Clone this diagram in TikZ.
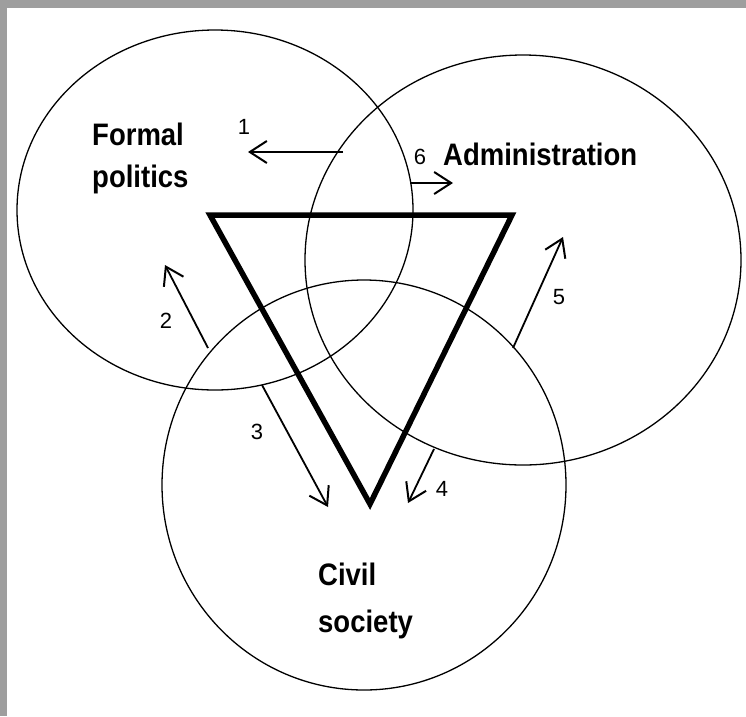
\documentclass[tikz,border=0pt]{standalone}
\usepackage{fontspec}
\setmainfont{Liberation Sans}
\usetikzlibrary{arrows.meta,shapes.geometric}
\definecolor{framegray}{HTML}{9E9E9E}
\newcommand{\tallbf}[1]{\scalebox{1}[1.13]{#1}}
\begin{document}
\begin{tikzpicture}[x=1pt,y=-1pt,
  sphere/.style={draw, ellipse, line width=1.3pt, inner sep=0pt},
  conn/.style={line width=1.8pt, -{Straight Barb[length=17pt,width=22pt,line width=2pt]}},
  title/.style={font=\bfseries\fontsize{27.5}{33}\selectfont, anchor=base west, inner sep=0pt},
  num/.style={font=\fontsize{22}{26}\selectfont, inner sep=0pt},
  tri/.style={line width=5.5pt, line join=miter}
]
\useasboundingbox (0,0) rectangle (746,716);
\fill[framegray] (0,0) rectangle (746,716);
\fill[white] (7,8) rectangle (746,716);

% spheres
\node[sphere, minimum width=396pt, minimum height=360pt] (fp) at (215,210) {};
\node[sphere, minimum width=436pt, minimum height=410pt] (ad) at (523,260) {};
\node[sphere, minimum width=404pt, minimum height=410pt] (cs) at (364,485) {};

% triangle
\coordinate (t1) at (210,215);
\coordinate (t2) at (512,215);
\coordinate (t3) at (370,504);
\draw[tri] (t1) -- (t2) -- (t3) -- cycle;

% arrow end points
\coordinate (a1s) at (343,152);
\coordinate (a1e) at (248,152);
\coordinate (a6s) at (410,183);
\coordinate (a6e) at (453,183);
\coordinate (a2s) at (208,348);
\coordinate (a2e) at (165,265);
\coordinate (a3s) at (262,385);
\coordinate (a3e) at (328,507);
\coordinate (a4s) at (434,449);
\coordinate (a4e) at (408,503);
\coordinate (a5s) at (513,348);
\coordinate (a5e) at (563,237);

\draw[conn] (a1s) -- (a1e);
\draw[conn] (a6s) -- (a6e);
\draw[conn] (a2s) -- (a2e);
\draw[conn] (a3s) -- (a3e);
\draw[conn] (a4s) -- (a4e);
\draw[conn] (a5s) -- (a5e);

% numbers
\node[num] (n1) at (244,127) {1};
\node[num] (n6) at (420,157) {6};
\node[num] (n2) at (166,321) {2};
\node[num] (n3) at (257,432) {3};
\node[num] (n4) at (442,489) {4};
\node[num] (n5) at (559,297) {5};

% titles
\node[title] (fpa) at (92,145) {\tallbf{Formal}};
\node[title] (fpb) at (92,187) {\tallbf{politics}};
\node[title] (adm) at (443,165) {\tallbf{Administration}};
\node[title] (csa) at (318,585) {\tallbf{Civil}};
\node[title] (csb) at (318,632) {\tallbf{society}};
\end{tikzpicture}
\end{document}
